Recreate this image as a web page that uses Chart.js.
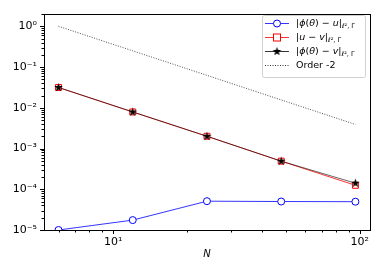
<!DOCTYPE html>
<html>
<head>
<meta charset="utf-8">
<script src="https://cdn.jsdelivr.net/npm/chart.js@4/dist/chart.umd.min.js"></script>
<style>
  html, body { margin: 0; padding: 0; background: #fff; }
  #wrap { width: 382px; height: 273px; }
</style>
</head>
<body>
<div id="wrap"><canvas id="c" width="382" height="273"></canvas></div>
<script>
// data
var N = [6, 12, 24, 48, 96];
var errPhiU = [1.0e-5, 1.75e-5, 5.1e-5, 5.0e-5, 4.95e-5];
var errUV = [0.0315, 0.0079, 0.0020, 0.00049, 0.000125];
var errPhiV = [0.0315, 0.0079, 0.0020, 0.00049, 0.000141];
var order2 = [1.0, 0.25, 0.0625, 0.0156, 0.0039];

var xMajor = [10, 100];
var yMajor = [1e-5, 1e-4, 1e-3, 1e-2, 1e-1, 1];
var xLabels = ["10¹", "10²"];
var yLabels = ["10⁻⁵", "10⁻⁴", "10⁻³", "10⁻²", "10⁻¹", "10⁰"];

var FONT = "DejaVu Sans";

function pts(ys){
	var out = [];
	for (var i=0;i<N.length;i++){ out.push({x: N[i], y: ys[i]}); }
	return out;
}

// filled star marker
function makeStar(r){
	var c = document.createElement("canvas");
	c.width = r*2+2; c.height = r*2+2;
	var g = c.getContext("2d");
	g.translate(r+1, r+1);
	g.beginPath();
	for (var i=0;i<10;i++){
		var rad = (i%2==0) ? r : r*0.42;
		var a = -Math.PI/2 + i*Math.PI/5;
		g.lineTo(rad*Math.cos(a), rad*Math.sin(a));
	}
	g.closePath();
	g.fillStyle = "#000";
	g.fill();
	return c;
}
var star = makeStar(4.5);

function minorVals(lo, hi){
	var v = [];
	for (var e=-6;e<=3;e++){
		for (var k=1;k<10;k++){
			var t = k*Math.pow(10,e);
			if (t>=lo*0.9999 && t<=hi*1.0001) v.push({v:t, major: k==1});
		}
	}
	return v;
}

var framePlugin = {
	id: "frame",
	afterDraw: function(chart){
		var ctx = chart.ctx, a = chart.chartArea;
		var xs = chart.scales.x, ys = chart.scales.y;
		ctx.save();
		ctx.strokeStyle = "#000";
		ctx.lineWidth = 1;
		ctx.strokeRect(Math.round(a.left)+0.5, Math.round(a.top)+0.5, Math.round(a.right-a.left), Math.round(a.bottom-a.top));
		// tick marks, outward
		minorVals(xs.min, xs.max).forEach(function(t){
			var px = Math.round(xs.getPixelForValue(t.v))+0.5;
			ctx.beginPath();
			ctx.moveTo(px, a.bottom);
			ctx.lineTo(px, a.bottom + (t.major ? 4 : 2.5));
			ctx.stroke();
		});
		minorVals(ys.min, ys.max).forEach(function(t){
			var py = Math.round(ys.getPixelForValue(t.v))+0.5;
			ctx.beginPath();
			ctx.moveTo(a.left, py);
			ctx.lineTo(a.left - (t.major ? 4 : 2.5), py);
			ctx.stroke();
		});
		// axis title
		ctx.fillStyle = "#000";
		ctx.font = "italic 10px " + FONT;
		ctx.textAlign = "center";
		ctx.textBaseline = "middle";
		ctx.fillText("N", (a.left+a.right)/2, 254);
		drawLegend(ctx);
		ctx.restore();
	}
};

function drawParts(ctx, x, y, parts){
	parts.forEach(function(p){
		var size = p.sub ? 6.5 : 9.5;
		ctx.font = (p.it ? "italic " : "") + size + "px " + FONT;
		ctx.fillText(p.t, x, y + (p.sub ? 3 : 0));
		x += ctx.measureText(p.t).width;
	});
}

function drawLegend(ctx){
	var bx = 262, by = 15, bw = 103, bh = 62;
	ctx.save();
	ctx.beginPath();
	ctx.roundRect(bx+0.5, by+0.5, bw, bh, 2);
	ctx.fillStyle = "rgba(255,255,255,0.8)";
	ctx.fill();
	ctx.strokeStyle = "#d0d0d0";
	ctx.lineWidth = 1;
	ctx.stroke();

	var sub = [{t:"ℓ",it:1,sub:1},{t:"²",sub:1},{t:", Γ",sub:1}];
	var rows = [
		{color: "#0000ff", marker: "circle", parts: [{t:"|"},{t:"ϕ",it:1},{t:"("},{t:"θ",it:1},{t:") − "},{t:"u",it:1},{t:"|"}].concat(sub)},
		{color: "#ff0000", marker: "square", parts: [{t:"|"},{t:"u",it:1},{t:" − "},{t:"v",it:1},{t:"|"}].concat(sub)},
		{color: "#000000", marker: "star", parts: [{t:"|"},{t:"ϕ",it:1},{t:"("},{t:"θ",it:1},{t:") − "},{t:"v",it:1},{t:"|"}].concat(sub)},
		{color: "#000000", marker: "dots", parts: [{t:"Order -2"}]}
	];
	var ys = [23, 37, 51, 65];
	rows.forEach(function(r, i){
		var y = ys[i] + 0.5;
		ctx.strokeStyle = r.color;
		ctx.lineWidth = 0.8;
		if (r.marker == "dots") ctx.setLineDash([1, 1.5]); else ctx.setLineDash([]);
		ctx.beginPath();
		ctx.moveTo(265, y);
		ctx.lineTo(289, y);
		ctx.stroke();
		ctx.setLineDash([]);
		ctx.lineWidth = 1;
		if (r.marker == "circle"){
			ctx.beginPath();
			ctx.arc(277, y, 3.5, 0, Math.PI*2);
			ctx.fillStyle = "#fff";
			ctx.fill();
			ctx.stroke();
		} else if (r.marker == "square"){
			ctx.fillStyle = "#fff";
			ctx.fillRect(273.5, y-3.5, 7, 7);
			ctx.strokeRect(273.5, y-3.5, 7, 7);
		} else if (r.marker == "star"){
			ctx.drawImage(star, 277-star.width/2, y-star.height/2);
		}
		ctx.fillStyle = "#000";
		ctx.textAlign = "left";
		ctx.textBaseline = "middle";
		drawParts(ctx, 296, y, r.parts);
	});
	ctx.restore();
}

function decadeLabel(v, list, first){
	var e = Math.round(Math.log10(v));
	if (Math.abs(Math.log10(v) - e) > 1e-6) return "";
	return list[e - first] || "";
}

var chart = new Chart(document.getElementById("c"), {
	type: "line",
	data: {
		datasets: [
			{
				label: "|φ(θ) − u|",
				data: pts(errPhiU),
				borderColor: "#0000ff",
				borderWidth: 0.8,
				pointStyle: "circle",
				pointRadius: 3.5,
				pointBorderWidth: 1,
				pointBackgroundColor: "#fff",
				pointBorderColor: "#0000ff",
				order: 3
			},
			{
				label: "|u − v|",
				data: pts(errUV),
				borderColor: "#ff0000",
				borderWidth: 0.8,
				pointStyle: "rect",
				pointRadius: 4.2,
				pointBorderWidth: 1,
				pointBackgroundColor: "#fff",
				pointBorderColor: "#ff0000",
				order: 2
			},
			{
				label: "|φ(θ) − v|",
				data: pts(errPhiV),
				borderColor: "rgba(0,0,0,0.75)",
				borderWidth: 0.8,
				pointStyle: star,
				pointRadius: 4.5,
				order: 1
			},
			{
				label: "Order -2",
				data: pts(order2),
				borderColor: "#000",
				borderWidth: 0.7,
				borderDash: [1, 1.5],
				pointRadius: 0,
				order: 0
			}
		]
	},
	options: {
		responsive: false,
		animation: false,
		devicePixelRatio: 1,
		layout: { padding: { left: 0, right: 12, top: 10, bottom: 0 } },
		plugins: { legend: { display: false }, tooltip: { enabled: false } },
		elements: { line: { tension: 0 } },
		scales: {
			x: {
				type: "logarithmic",
				min: 5.24,
				max: 110,
				grid: { display: false, drawTicks: false },
				border: { display: false },
				afterBuildTicks: function(s){ s.ticks = xMajor.map(function(v){ return {value: v}; }); },
				afterFit: function(s){ s.height = 43; },
				ticks: {
					autoSkip: false,
					maxRotation: 0,
					padding: 6,
					color: "#000",
					font: { family: FONT, size: 11 },
					callback: function(v){ return decadeLabel(v, xLabels, 1); }
				}
			},
			y: {
				type: "logarithmic",
				min: 1e-5,
				max: 2.05,
				grid: { display: false, drawTicks: false },
				border: { display: false },
				afterBuildTicks: function(s){ s.ticks = yMajor.map(function(v){ return {value: v}; }); },
				afterFit: function(s){ s.width = 44; },
				ticks: {
					autoSkip: false,
					padding: 7,
					color: "#000",
					font: { family: FONT, size: 11 },
					callback: function(v){ return decadeLabel(v, yLabels, -5); }
				}
			}
		}
	},
	plugins: [framePlugin]
});
</script>
</body>
</html>
